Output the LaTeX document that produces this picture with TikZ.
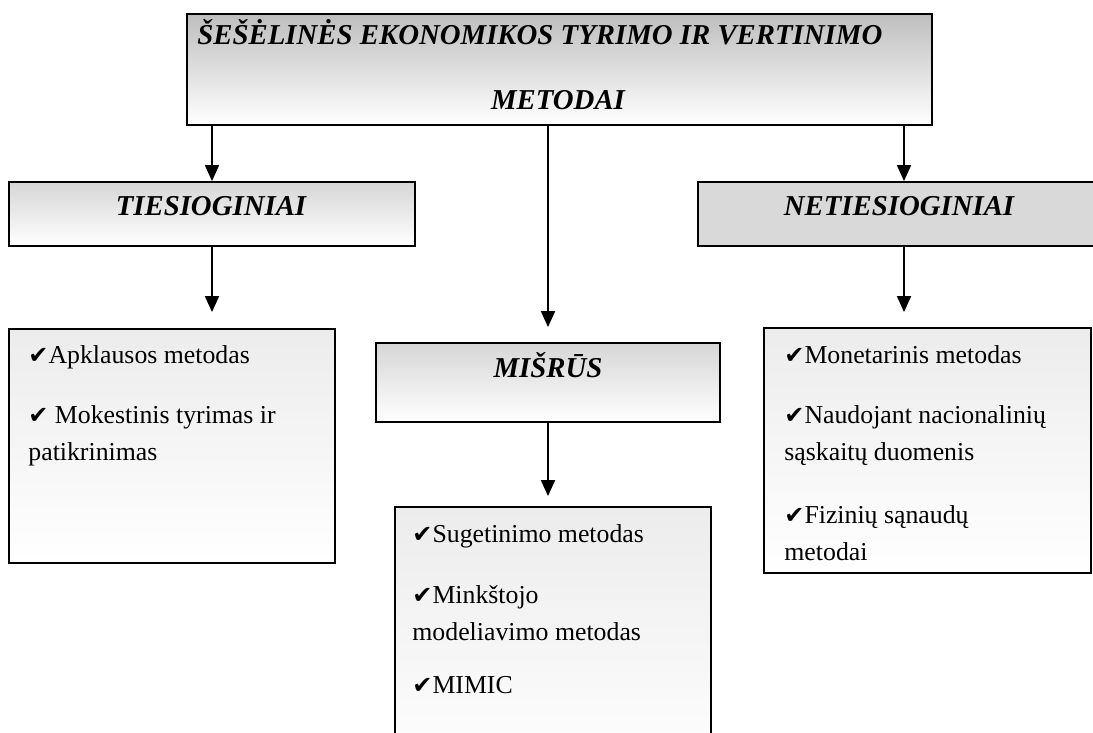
\documentclass[tikz,border=0pt]{standalone}
\usepackage{fontspec}
\setmainfont{Liberation Serif}
\newfontfamily\checkfont{DejaVu Sans}
\usetikzlibrary{arrows.meta}
\definecolor{dark shade}{RGB}{190, 190, 190}
\definecolor{mid shade}{RGB}{214, 214, 214}
\definecolor{light shade}{RGB}{236, 236, 236}
\definecolor{flat gray}{RGB}{217, 217, 217}
\newcommand{\chk}{{\checkfont\fontsize{12}{12}\selectfont ✔}}

\begin{document}
\begin{tikzpicture}[
        x=0.5pt, y=-0.5pt,
        box/.style={draw=black, line width=0.9pt, inner sep=0pt},
        titlebox/.style={box, top color=dark shade, bottom color=white},
        groupbox/.style={box, top color=mid shade, bottom color=white},
        flatbox/.style={box, fill=flat gray},
        listbox/.style={box, top color=light shade, bottom color=white},
        heading/.style={font=\fontsize{14.4}{17}\selectfont\bfseries\itshape, inner sep=0pt},
        listtext/.style={font=\fontsize{12.9}{18.5}\selectfont, align=left,
            inner sep=0pt, anchor=north west},
        arrow/.style={line width=0.9pt, -{Triangle[width=7pt,length=8pt]}}
    ]
    \useasboundingbox (0,0) rectangle (1093,733);
    \clip (0,0) rectangle (1093,733);

    % top
    \node[titlebox, minimum width=372.5pt, minimum height=55.5pt] (top) at (559.5,69.5) {};
    \node[heading, anchor=base west] (title1) at (197,45) {ŠEŠĖLINĖS EKONOMIKOS TYRIMO IR VERTINIMO};
    \node[heading, anchor=base] (title2) at (558,110) {METODAI};

    % groups
    \node[groupbox, minimum width=203pt, minimum height=32pt] (tdir) at (212,214) {};
    \node[heading, anchor=base] (tdirname) at (211,215) {TIESIOGINIAI};
    \node[groupbox, minimum width=172pt, minimum height=39.5pt] (mix) at (548,382.5) {};
    \node[heading, anchor=base] (mixname) at (548,377) {MIŠRŪS};
    \node[flatbox, minimum width=206pt, minimum height=32pt] (indir) at (904,214) {};
    \node[heading, anchor=base] (indirname) at (899,215) {NETIESIOGINIAI};

    % lists
    \node[listbox, minimum width=163pt, minimum height=117pt] (dlist) at (172,446) {};
    \node[listtext] (dtext) at (28,337)
        {\strut\chk Apklausos metodas\\[11.5pt]
         \chk{} Mokestinis tyrimas ir\\
         patikrinimas};
    \node[listbox, minimum width=158pt, minimum height=136.5pt] (mlist) at (553,643.5) {};
    \node[listtext] (mtext) at (412,516)
        {\strut\chk Sugetinimo metodas\\[12pt]
         \chk Minkštojo\\
         modeliavimo metodas\\[8pt]
         \chk MIMIC};
    \node[listbox, minimum width=163.5pt, minimum height=122.5pt] (ilist) at (927.5,450.5) {};
    \node[listtext] (itext) at (784,337)
        {\strut\chk Monetarinis metodas\\[11.5pt]
         \chk Naudojant nacionalinių\\
         sąskaitų duomenis\\[13pt]
         \chk Fizinių sąnaudų\\
         metodai};

    % arrows
    \draw[arrow] (top.south -| tdir.north) -- (tdir.north);
    \draw[arrow, shorten >=7.5pt] (top.south -| mix.north) -- (mix.north);
    \draw[arrow] (top.south -| indir.north) -- (indir.north);
    \draw[arrow, shorten >=8pt] (tdir.south) -- (tdir.south |- dlist.north);
    \draw[arrow, shorten >=5pt] (mix.south) -- (mix.south |- mlist.north);
    \draw[arrow, shorten >=7.5pt] (indir.south) -- (indir.south |- ilist.north);
\end{tikzpicture}
\end{document}
